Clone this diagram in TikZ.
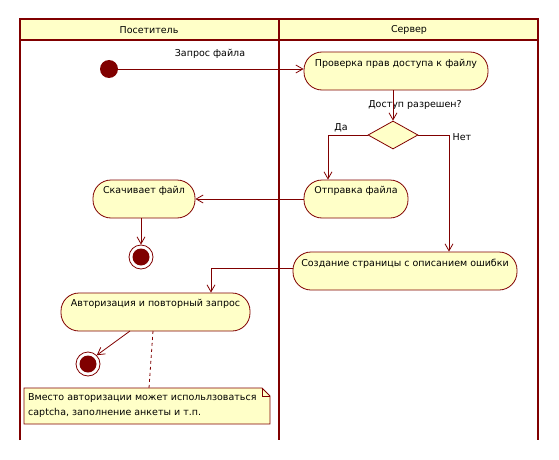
\documentclass[tikz,border=0pt]{standalone}
\usepackage{fontspec}
\setmainfont{DejaVu Sans}
\usetikzlibrary{arrows.meta,shapes.geometric}
\definecolor{lnc}{HTML}{800000}
\definecolor{fil}{HTML}{FFFFC8}
\begin{document}
\begin{tikzpicture}[x=1pt,y=-1pt,
  every node/.style={font=\fontsize{9.5}{11}\selectfont, inner sep=0pt},
  action/.style={draw=lnc, fill=fil, line width=0.8pt, rectangle, rounded corners=18pt},
  lane/.style={draw=lnc, line width=2pt},
  flow/.style={draw=lnc, line width=0.8pt, -{Straight Barb[length=7pt,width=8pt,line width=0.8pt]}},
  flowline/.style={draw=lnc, line width=0.8pt},
  startdot/.style={circle, fill=lnc, minimum size=18pt},
  enddot/.style={circle, draw=lnc, line width=0.8pt, fill=white, minimum size=24pt},
  decision/.style={diamond, draw=lnc, fill=fil, line width=0.8pt, minimum width=50pt, minimum height=28pt, aspect=1.8},
  notebox/.style={draw=lnc, fill=fil, line width=0.8pt}
]
\useasboundingbox (0,0) rectangle (559,460);
% swimlanes
\fill[fil] (20,19) rectangle (538,40);
\draw[lane] (20,440) -- (20,19) -- (538,19) -- (538,440);
\draw[lane] (20,40) -- (538,40);
\draw[lane] (279,19) -- (279,440);
\node (h1) at (149,30) {Посетитель};
\node (h2) at (409,30) {Сервер};

% start
\node[startdot] (start) at (109,69) {};

% actions
\node[action, minimum width=184pt, minimum height=38pt] (check) at (396,71) {};
\node (checkt) at (396,64) {Проверка прав доступа к файлу};
\node[decision] (dec) at (393,135) {};
\node[action, minimum width=104pt, minimum height=38pt] (send) at (356,199) {};
\node (sendt) at (356,191) {Отправка файла};
\node[action, minimum width=224pt, minimum height=38pt] (err) at (405,271) {};
\node (errt) at (405,264) {Создание страницы с описанием ошибки};
\node[action, minimum width=102pt, minimum height=38pt] (dl) at (144,199) {};
\node (dlt) at (144,191) {Скачивает файл};
\node[action, minimum width=189pt, minimum height=38pt] (auth) at (155.5,312) {};
\node (autht) at (155.5,304) {Авторизация и повторный запрос};

% ends
\node[enddot] (end1) at (141,257) {};
\fill[lnc] (end1.center) circle (8.5pt);
\node[enddot] (end2) at (88,364) {};
\fill[lnc] (end2.center) circle (8.5pt);

% note
\coordinate (nt) at (149,388);
\draw[notebox] (24,388) -- (262,388) -- (270,396) -- (270,424) -- (24,424) -- cycle;
\draw[flowline] (262,388) -- (262,396) -- (270,396);
\node[anchor=west, align=left, font=\fontsize{9.5}{15}\selectfont] (note) at (28,406) {Вместо авторизации может испольлзоваться\\captcha, заполнение анкеты и т.п.};

% labels
\node (lq) at (210,54) {Запрос файла};
\node (lacc) at (415,105) {Доступ разрешен?};
\node (lyes) at (341,128) {Да};
\node (lno) at (462,137) {Нет};

% flows
\draw[flow] (start) -- (check.west |- start);
\draw[flow] (check.south -| dec) -- (dec.north);
\draw[flow] (dec.west) -| (send.north -| 328,0);
\draw[flow] (dec.east) -| (err.north -| 449,0);
\draw[flow] (send.west) -- (dl.east);
\draw[flow] (dl.south -| end1) -- (end1.north);
\draw[flow] (err.west |- 0,268) -| (auth.north -| 211,0);
\draw[flow] (130,331) -- (end2.north east);
\draw[flowline, dashed] (153,331) -- (nt);
\end{tikzpicture}
\end{document}
